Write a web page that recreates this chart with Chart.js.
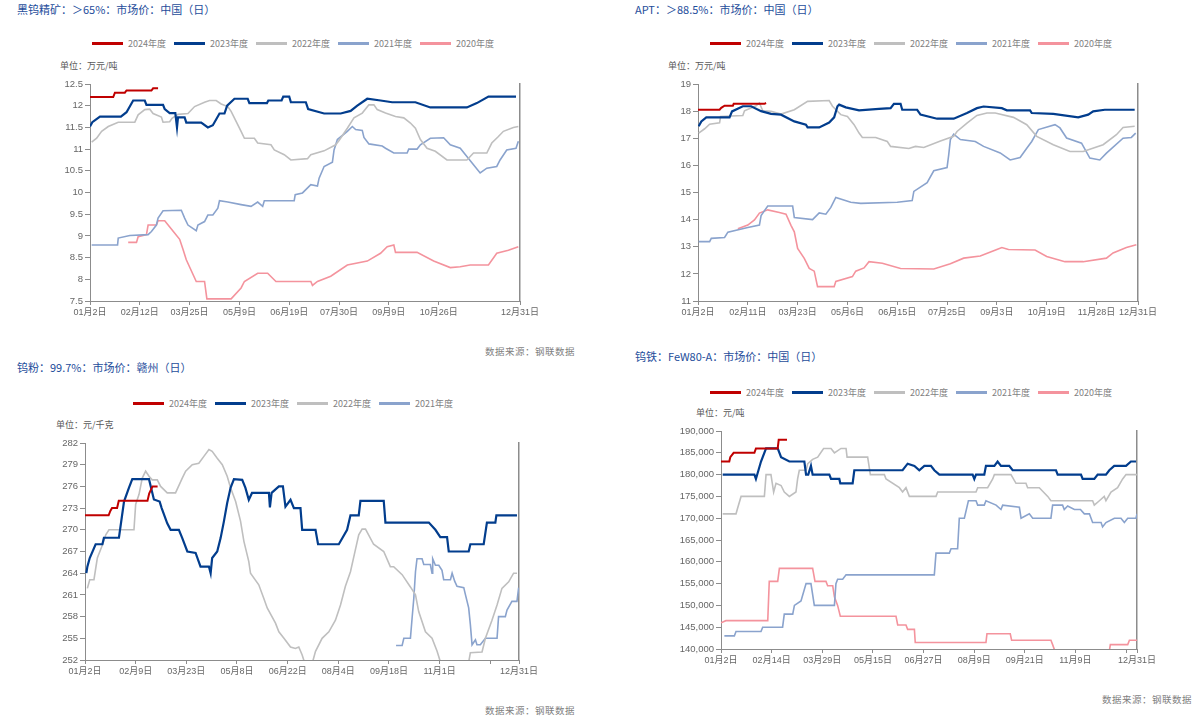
<!DOCTYPE html>
<html>
<head>
<meta charset="utf-8">
<script src="https://cdn.jsdelivr.net/npm/chart.js@4.4.1/dist/chart.umd.min.js"></script>
<style>
  body { margin: 0; width: 1202px; height: 725px; background: #fff; position: relative; overflow: hidden;
         font-family: "Noto Sans CJK SC", "Liberation Sans", sans-serif; }
  .txt { position: absolute; white-space: nowrap; line-height: 1; }
  .title { font-size: 11px; color: #1e4d9b; }
  .unit { font-size: 9px; color: #595959; }
  .src { font-size: 9.5px; color: #7f7f7f; letter-spacing: 0.5px; }
  .legend { position: absolute; display: flex; align-items: center; height: 10px; font-size: 9px; color: #7f7f7f; }
  .legend .item { display: flex; align-items: center; width: 82px; }
  .legend i { display: inline-block; width: 31px; height: 3px; margin-right: 5px; }
  canvas { position: absolute; }
</style>
</head>
<body>
<script>
// series names and styles
const years = ['2024年度', '2023年度', '2022年度', '2021年度', '2020年度'];
const lineColors = ['#c00000', '#023d8d', '#bfbfbf', '#8aa3cd', '#f4939d'];
const lineWidths = [2, 2.2, 1.6, 1.6, 1.6];

// 黑钨精矿 (万元/吨), [trading-day index, value]
const oreTicks = [0, 30, 60, 90, 120, 150, 180, 210, 259];
const oreTickLabels = ['01月2日', '02月12日', '03月25日', '05月9日', '06月19日', '07月30日', '09月9日', '10月26日', '12月31日'];
const ore24 = [[0,12.2],[14,12.2],[15,12.3],[21,12.3],[22,12.35],[37,12.35],[38,12.4],[41,12.4]];
const ore23 = [[0,11.52],[1.4,11.62],[6,11.75],[18.6,11.75],[22,11.85],[26,12.12],[33,12.12],[34,12.02],[44,12.02],[45,11.92],[48,11.83],[51.4,11.83],[52.4,11.5],[53,11.73],[57,11.73],[58,11.61],[67,11.61],[71,11.5],[74,11.55],[78,11.82],[81,11.82],[82.6,12.0],[87,12.16],[95,12.16],[96,12.06],[106.6,12.06],[107.4,12.12],[115.4,12.12],[116.4,12.21],[120,12.21],[121,12.08],[130,12.08],[131.4,11.92],[141,11.82],[151,11.82],[157,11.88],[161,12.0],[167,12.16],[175,12.12],[182,12.08],[196,12.08],[205,11.96],[227,11.96],[233,12.06],[240,12.21],[256.6,12.21]];
const ore22 = [[1,11.16],[4,11.25],[7,11.41],[11,11.52],[17,11.62],[27,11.62],[29,11.79],[33,11.91],[36,11.92],[38,11.82],[43,11.74],[44,11.62],[48,11.63],[49.4,11.71],[53,11.8],[59,11.82],[63,11.98],[69,12.08],[72,12.12],[76,12.12],[79,12.04],[83,11.98],[85,11.87],[88,11.64],[91,11.41],[93,11.25],[99,11.25],[101,11.14],[109,11.1],[111,10.98],[117,10.87],[121,10.75],[131,10.78],[133,10.87],[141,10.96],[148,11.1],[150,11.2],[155,11.48],[159,11.72],[164,11.83],[168,12.02],[171,12.02],[173,11.91],[178,11.83],[184,11.75],[189,11.72],[193,11.6],[196,11.48],[199,11.22],[203,11.02],[208,10.95],[215,10.75],[227,10.75],[231,10.91],[239,10.91],[242,11.14],[246,11.29],[249,11.41],[255,11.5],[258,11.52]];
const ore21 = [[1,8.79],[16.6,8.79],[17,8.95],[24,9.01],[35,9.03],[37,9.1],[40,9.25],[41,9.41],[44,9.58],[55,9.59],[57,9.41],[59,9.25],[64,9.12],[65,9.25],[69,9.33],[71,9.48],[74,9.48],[77,9.64],[78,9.81],[83,9.78],[91,9.72],[97,9.68],[101,9.78],[104,9.68],[105,9.81],[123,9.81],[123.6,9.95],[128,9.99],[133,10.18],[137,10.15],[138,10.33],[141,10.6],[146,10.7],[147,10.98],[149,11.22],[155,11.41],[158,11.52],[160,11.45],[164,11.43],[165,11.27],[168,11.12],[176,11.07],[178,11.02],[183,10.91],[191,10.91],[192,11.0],[197,11.0],[199,11.1],[205,11.25],[213,11.26],[217,11.1],[223,11.02],[227,10.83],[231,10.64],[235,10.45],[239,10.56],[245,10.6],[247,10.75],[251,10.98],[256.6,11.02],[258,11.18]];
const ore20 = [[23,8.85],[28,8.85],[29,8.98],[34,9.03],[35,9.25],[40,9.25],[41,9.35],[45,9.35],[49,9.16],[54,8.92],[56,8.69],[58,8.45],[64,7.95],[69,7.95],[70.4,7.55],[85,7.55],[91,7.8],[93,7.95],[101,8.14],[107,8.14],[112,7.95],[133,7.95],[134,7.86],[137,7.95],[145,8.07],[155,8.33],[167,8.42],[175,8.6],[179,8.75],[183,8.79],[184,8.62],[197,8.62],[207,8.42],[217,8.27],[223,8.29],[229,8.33],[240,8.33],[245,8.6],[252,8.67],[258,8.75]];

// APT (万元/吨)
const aptTicks = [0, 30, 60, 90, 120, 150, 180, 210, 240, 265];
const aptTickLabels = ['01月2日', '02月11日', '03月23日', '05月6日', '06月15日', '07月25日', '09月3日', '10月19日', '11月28日', '12月31日'];
const apt24 = [[0,18.05],[13,18.05],[14,18.12],[16,18.2],[21,18.2],[21.5,18.27],[40,18.27],[41,18.3]];
const apt23 = [[0.4,17.44],[2,17.62],[5,17.77],[19,17.77],[20.5,17.99],[27,18.18],[32,18.18],[38,18.0],[44,17.9],[50,17.87],[58,17.62],[65,17.5],[66,17.4],[73,17.4],[79,17.58],[82,17.77],[84,18.18],[85,18.24],[89,18.14],[97,18.03],[109,18.08],[116,18.11],[118,18.27],[122,18.27],[123,18.05],[132,18.05],[134,17.87],[144,17.72],[154,17.72],[162,17.93],[168,18.11],[172,18.17],[183,18.11],[186,18.03],[200,18.03],[201,17.93],[214,17.9],[229,17.77],[235,17.87],[238,17.99],[245,18.05],[263,18.05]];
const apt22 = [[0.4,17.19],[4,17.35],[7,17.52],[13,17.57],[13.6,17.8],[27,17.84],[28,18.01],[35,18.2],[37,18.3],[39,18.01],[44,17.99],[50,17.89],[58,18.05],[66,18.36],[79,18.39],[81,18.18],[86,17.87],[90,17.8],[94,17.5],[97,17.19],[99,17.03],[107,17.03],[114,16.88],[116,16.7],[127,16.62],[131,16.7],[136,16.66],[146,16.9],[154,17.07],[156,17.25],[162,17.56],[168,17.84],[174,17.93],[179,17.93],[190,17.77],[198,17.5],[204,17.07],[214,16.76],[224,16.51],[232,16.51],[244,16.76],[252,17.13],[256,17.4],[263,17.44]];
const apt21 = [[0.4,13.19],[7,13.19],[8,13.31],[16,13.34],[18,13.54],[30,13.71],[37,13.8],[38,14.15],[42,14.5],[57,14.5],[58,14.08],[69,14.0],[73,14.25],[77,14.2],[80,14.45],[83,14.82],[92,14.64],[98,14.6],[120,14.64],[129,14.7],[130,15.04],[138,15.36],[142,15.8],[150,15.92],[151,16.39],[152,16.95],[154,17.15],[158,16.95],[167,16.88],[172,16.7],[182,16.46],[188,16.2],[194,16.29],[198,16.63],[201,16.88],[205,17.32],[215,17.5],[218,17.38],[222,17.01],[231,16.82],[236,16.27],[242,16.2],[246,16.45],[256,17.0],[261,17.03],[263.6,17.19]];
const apt20 = [[24,13.66],[30,13.8],[34,13.99],[37,14.24],[42,14.36],[49,14.26],[53,14.2],[56,13.79],[58,13.55],[60,12.94],[64,12.57],[67,12.2],[70,12.1],[72,11.53],[82,11.53],[83,11.72],[93,11.9],[95,12.1],[100,12.22],[103,12.45],[111,12.39],[122,12.2],[142,12.18],[152,12.37],[160,12.58],[170,12.66],[180,12.9],[183,12.97],[187,12.9],[203,12.88],[210,12.64],[221,12.45],[232,12.45],[246,12.58],[250,12.77],[258,12.97],[264,13.07]];

// 钨粉 (元/千克)
const powTicks = [0, 30, 60, 90, 120, 150, 180, 210, 240, 257];
const powTickLabels = ['01月2日', '02月9日', '03月23日', '05月8日', '06月22日', '08月4日', '09月18日', '11月1日', '', '12月31日'];
const pow24 = [[0,272],[14,272],[15,272.6],[16,273],[19,273],[20,274],[37,274],[38,275],[40,276],[43,276]];
const pow23 = [[0.8,264],[1.4,264.9],[2.8,266.1],[6.3,268],[10.3,268],[11.2,268.9],[20.1,268.9],[23.1,273.9],[26,275.8],[28,277],[37.9,277],[40.8,274.2],[44.2,273.9],[45.4,273],[48.7,270.9],[50.7,270],[55.6,270],[57.6,268.85],[60.6,267],[65.5,266.8],[68.4,264.9],[73.4,264.9],[74.4,264],[75.3,266.1],[78.3,267],[80.3,268.85],[82.2,271.1],[84.2,273.7],[86.2,275.8],[88.2,277],[93.1,276.9],[95,275.8],[97,274.15],[98.9,275.1],[108.9,275.1],[109.5,273.1],[110.5,275.1],[114.8,276],[117.2,276],[118.7,273.2],[121.7,274.15],[123.7,273],[127.6,273],[128.6,270],[136.5,270],[138,268],[150.3,268],[155.2,270],[157.2,272],[162.1,272],[163.1,274],[176.9,274],[177.9,271],[203.6,271],[207.5,270],[210.4,269],[214.4,269],[215.4,267],[227.2,267],[228.2,268],[236.1,268],[238,271],[243,271],[243.6,272],[255.8,272]];
const pow22 = [[1.4,261.9],[2.8,263.1],[5.3,263.1],[7.3,266.1],[10.3,267.9],[12.3,269.3],[14.2,270],[29,270],[30,273.5],[32,274.9],[33.9,277.15],[35.9,278.1],[37.9,277.4],[39.8,276.9],[42.8,276.9],[44.8,276],[48.7,275.1],[53.6,275.1],[57.6,277.15],[59.6,278.1],[63.5,279],[67.4,279.2],[70.4,280.15],[73.4,281.1],[75.3,280.85],[78.3,279.9],[81.3,279],[84.2,277.4],[86.2,275.8],[89.2,273.9],[92.1,271.2],[94.1,268.4],[97,265.6],[98,264],[102.9,262.4],[105.9,260.5],[107.9,259.2],[112.8,257.1],[114.8,255.9],[117.8,255],[121.7,253.8],[124.6,253.6],[126.6,253.8],[128.6,252.7],[130.2,251.5],[134.5,251.5],[136.5,253.2],[140.4,255],[144.4,255.9],[148.3,257.5],[151.3,259.6],[154.2,262.2],[157.2,264.2],[159.2,266.3],[162.1,269.3],[164.1,270.1],[166.1,270.1],[170.9,268],[176.9,267],[180.8,264.9],[182.8,264.9],[187.8,263.8],[192.7,262.1],[195.7,261],[197.6,258.7],[201.6,255.9],[205.5,255],[208.5,253.2],[210.5,251.7],[227.2,251.7],[228.2,253],[235.1,253.1],[237.1,255],[241,257.5],[244,259.6],[246.9,261.9],[250.9,262.8],[253.8,264],[255.8,264]];
const pow21 = [[184.2,254],[187.8,254],[188.8,255],[192.7,255],[193.7,257.8],[194.7,260.5],[195.7,264.2],[196.6,266],[199.6,266],[200.6,265.2],[204.5,265.2],[205.5,264],[205.9,266],[207.5,265.1],[209.5,265.1],[211.4,264.4],[212.4,263.1],[216.4,263.1],[217.4,264],[218.9,262.9],[220.3,262.2],[224.3,262],[225.2,261.1],[227.2,259.2],[228.2,256.9],[229.2,254.1],[231.2,254.8],[232.1,254.1],[234.1,254.1],[237.1,255],[244,255],[244.9,258],[248.9,258],[249.9,258.9],[252.8,260.1],[255.8,260.1],[256.8,262]];

// 钨铁 FeW80-A (元/吨)
const fewTicks = [0, 30, 60, 90, 120, 150, 180, 210, 240, 246.5];
const fewTickLabels = ['01月2日', '02月14日', '03月29日', '05月15日', '06月27日', '08月9日', '09月21日', '11月9日', '', '12月31日'];
const few24 = [[0,183000],[4.9,183000],[5.5,184000],[7.5,185000],[19.8,185000],[20.7,186000],[33.6,186000],[34.2,188000],[39.1,188000]];
const few23 = [[1,180000],[19.8,180000],[20.7,179000],[23.7,183000],[26.7,186000],[33.6,186000],[35.6,184000],[40.5,183000],[49.4,183000],[50.4,180000],[51.7,180000],[53.3,182000],[54.3,180000],[64.2,180000],[65.2,179000],[70.1,179000],[70.7,178000],[78,178000],[79,181000],[107.6,181000],[110.6,182500],[114.6,182000],[117.5,181000],[120.5,182000],[124.4,182000],[126.4,181000],[129.4,180000],[149.1,180000],[150.1,179000],[151.1,180000],[156,180000],[157,182000],[162,182000],[163.9,183000],[165.9,182000],[170.8,182000],[172.8,181000],[198.5,181000],[199.5,180000],[213.3,180000],[214.3,179000],[221.2,179000],[223.2,180000],[228.1,180000],[230.1,181000],[233,182000],[240,182000],[242.9,183000],[245.9,183000]];
const few22 = [[1,171000],[8.9,171000],[10,172500],[11.9,175000],[25.7,175000],[26.7,180000],[29.6,180000],[31.2,176000],[32.6,178000],[35.6,177500],[37.5,176000],[40.5,175000],[44.4,176000],[45.4,179000],[46.4,181000],[50.4,181000],[51.4,182500],[54.3,183500],[57.3,184000],[60.8,186000],[65.2,186000],[67.2,185000],[71.1,186000],[74.1,186000],[74.7,184000],[86.9,184000],[88.5,180000],[96.8,180000],[97.8,179000],[105.7,177000],[107.6,176000],[109.6,177000],[111.6,175000],[127.4,175000],[128.4,176000],[151.1,176000],[152.1,177000],[158,177000],[161,179000],[162,180000],[171.8,180000],[174.8,178000],[180.7,178000],[181.7,177000],[188.6,177000],[193.6,175000],[195.5,174000],[220.2,174000],[221.2,173000],[224.2,174000],[227.1,175000],[228.1,174000],[231.1,176000],[235,177000],[238,179000],[240,180000],[246.5,180000]];
const few21 = [[2,143000],[7.9,143000],[8.9,144000],[23.7,144000],[24.7,145000],[36.5,145000],[37.5,148000],[42.5,148000],[43.5,150000],[47.4,151000],[50.4,155000],[53.3,155000],[55.3,150000],[59.6,150000],[67.2,150000],[68.1,155000],[69.1,156000],[72.1,156000],[74.1,157000],[126.4,157000],[127.4,162000],[135.3,162000],[136.3,163000],[140.2,163000],[141.2,170000],[144.2,170000],[146.6,174000],[151.1,174000],[152.1,173000],[156,173000],[157,174000],[163,173000],[165.9,172000],[166.9,173000],[176.8,172500],[177.8,170000],[182.7,171000],[184.7,170000],[195.5,170000],[196.5,173000],[202.4,173000],[203.4,172000],[205.4,172800],[209.4,172000],[213,172000],[215.3,171000],[218.3,171000],[220.2,169000],[225.2,169000],[226.1,168000],[228.1,169000],[233.1,170000],[237,170000],[239,169000],[241,170000],[245.9,170000],[246.5,171000]];
const few20 = [[0,146000],[2.9,146500],[27.7,146500],[28.6,155500],[33.6,155500],[34.6,158500],[54.3,158500],[55.7,155500],[62.2,155500],[63.2,154500],[66.2,154500],[67.2,152000],[69.1,150000],[70.7,147500],[103.7,147500],[104.7,145500],[109.6,145500],[110.6,144500],[114.6,144500],[115.1,141500],[157,141500],[157.6,143500],[171.4,143500],[172.2,142000],[195.5,142000],[196.5,141000],[197.9,139500],[230.1,139500],[230.7,141000],[241,141000],[242,142000],[246.5,142000]];

const panels = [
  { title: '黑钨精矿：＞65%：市场价：中国（日）', unit: '单位：万元/吨',
    titleAt: [17, 4], legendAt: [92, 38], unitAt: [60, 61], box: [90, 520, 84, 301],
    xt: oreTicks, xl: oreTickLabels, xMax: 259, yMin: 7.5, yMax: 12.5, yStep: 0.5,
    series: [ore24, ore23, ore22, ore21, ore20] },
  { title: 'APT：＞88.5%：市场价：中国（日）', unit: '单位：万元/吨',
    titleAt: [635, 4], legendAt: [710, 38], unitAt: [668, 61], box: [698, 1138, 84, 301],
    xt: aptTicks, xl: aptTickLabels, xMax: 265, yMin: 11, yMax: 19, yStep: 1,
    series: [apt24, apt23, apt22, apt21, apt20] },
  { title: '钨粉：99.7%：市场价：赣州（日）', unit: '单位：元/千克',
    titleAt: [17, 362], legendAt: [133, 398], unitAt: [56, 420], box: [85, 519, 443, 660],
    xt: powTicks, xl: powTickLabels, xMax: 257, yMin: 252, yMax: 282, yStep: 3,
    series: [pow24, pow23, pow22, pow21] },
  { title: '钨铁：FeW80-A：市场价：中国（日）', unit: '单位：元/吨',
    titleAt: [635, 351], legendAt: [710, 387], unitAt: [696, 408], box: [721, 1137, 431, 649],
    xt: fewTicks, xl: fewTickLabels, xMax: 246.5, yMin: 140000, yMax: 190000, yStep: 5000,
    series: [few24, few23, few22, few21, few20] }
];

function addText(cls, text, x, y) {
  const d = document.createElement('div');
  d.className = 'txt ' + cls;
  d.textContent = text;
  d.style.left = x + 'px';
  d.style.top = y + 'px';
  document.body.appendChild(d);
}

// y labels as in the source: 12 not 12.0, thousands with commas
function yLabel(v) {
  return Number(v.toFixed(2)).toLocaleString('en-US');
}

addText('src', '数据来源：钢联数据', 485, 347);
addText('src', '数据来源：钢联数据', 485, 706);
addText('src', '数据来源：钢联数据', 1102, 695);

const axisColor = '#8c8c8c';
const tickFont = { family: '"Liberation Sans", "Noto Sans CJK SC", sans-serif', size: 9 };

panels.forEach(function (p) {
  addText('title', p.title, p.titleAt[0], p.titleAt[1]);
  addText('unit', p.unit, p.unitAt[0], p.unitAt[1]);

  const lg = document.createElement('div');
  lg.className = 'legend';
  lg.style.left = p.legendAt[0] + 'px';
  lg.style.top = p.legendAt[1] + 'px';
  p.series.forEach(function (s, i) {
    const it = document.createElement('span');
    it.className = 'item';
    it.innerHTML = '<i style="background:' + lineColors[i] + '"></i>' + years[i];
    lg.appendChild(it);
  });
  document.body.appendChild(lg);

  const l = p.box[0], r = p.box[1], t = p.box[2], b = p.box[3];
  const padL = 60, padR = 34, padT = 8, padB = 22;
  const cv = document.createElement('canvas');
  cv.width = r - l + padL + padR;
  cv.height = b - t + padT + padB;
  cv.style.left = (l - padL) + 'px';
  cv.style.top = (t - padT) + 'px';
  document.body.appendChild(cv);

  new Chart(cv, {
    type: 'line',
    data: {
      datasets: p.series.map(function (s, i) {
        return {
          label: years[i],
          data: s.map(function (q) { return { x: q[0], y: q[1] }; }),
          borderColor: lineColors[i],
          borderWidth: lineWidths[i],
          pointRadius: 0,
          tension: 0,
          fill: false
        };
      })
    },
    options: {
      responsive: false,
      animation: false,
      layout: { padding: { left: 0, right: padR, top: padT, bottom: 0 } },
      plugins: { legend: { display: false }, tooltip: { enabled: false } },
      scales: {
        x: {
          type: 'linear', min: 0, max: p.xMax,
          afterBuildTicks: function (s) { s.ticks = p.xt.map(function (v) { return { value: v }; }); },
          afterFit: function (s) { s.height = padB; s.paddingLeft = 0; s.paddingRight = 0; },
          ticks: { autoSkip: false, maxRotation: 0, minRotation: 0, padding: 2, color: '#666', font: tickFont,
                   callback: function (v, i) { return p.xl[i]; } },
          grid: { display: true, drawOnChartArea: false, tickLength: 4, color: axisColor },
          border: { color: axisColor, width: 1 }
        },
        y: {
          min: p.yMin, max: p.yMax,
          afterFit: function (s) { s.width = padL; s.paddingTop = 0; s.paddingBottom = 0; },
          ticks: { stepSize: p.yStep, padding: 2, color: '#666', font: { family: tickFont.family, size: 9.5 },
                   callback: yLabel },
          grid: { display: true, drawOnChartArea: false, tickLength: 5, color: axisColor },
          border: { color: axisColor, width: 1 }
        },
        y2: {
          position: 'right', min: 0, max: 1,
          afterFit: function (s) { s.width = 0; },
          ticks: { display: false },
          grid: { display: false },
          border: { color: axisColor, width: 1.5 }
        }
      }
    }
  });
});
</script>
</body>
</html>
